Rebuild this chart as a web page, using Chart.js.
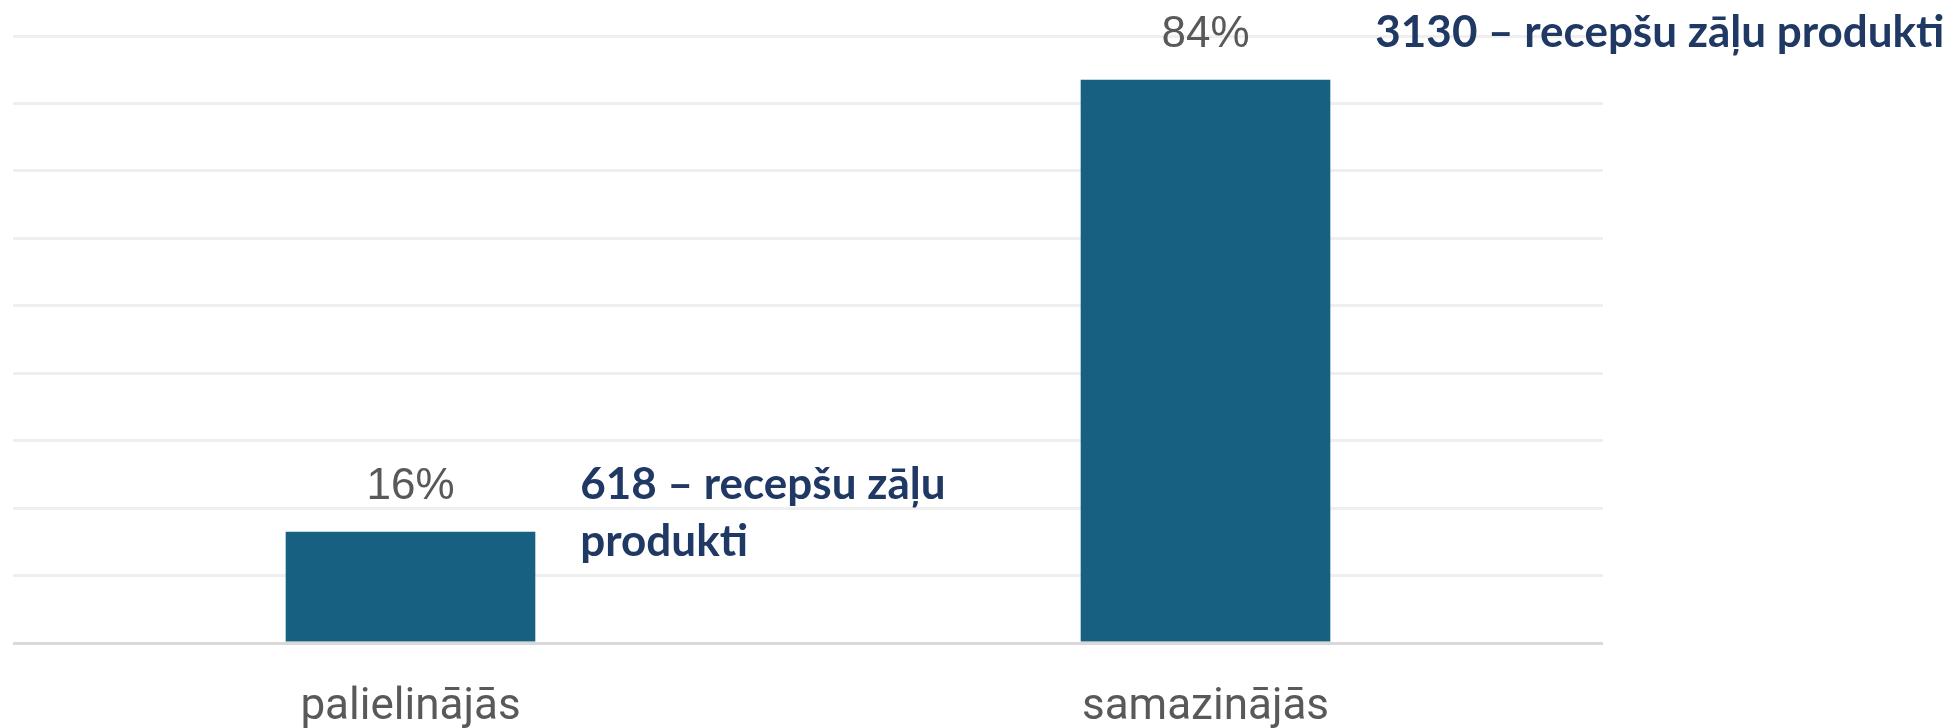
<!DOCTYPE html>
<html>
<head>
<meta charset="utf-8">
<script src="https://cdn.jsdelivr.net/npm/chart.js@4"></script>
<style>
  body { margin: 0; background: #fff; }
  #wrap { width: 1956px; height: 728px; }
</style>
</head>
<body>
<div id="wrap"><canvas id="chart"></canvas></div>
<script>
// data
const categories = ['palielinājās', 'samazinājās'];
const shares = [16.49, 83.51];          // percent of products
const counts = [618, 3130];             // prescription products
const noteLines = [
    ['618 – recepšu zāļu', 'produkti'],
    ['3130 – recepšu zāļu produkti']
];
const yTicks = [0, 10, 20, 30, 40, 50, 60, 70, 80, 90];

const barColor = '#176082';
const labelGray = '#595959';
const noteColor = '#1F3864';

// percent labels above bars + the bold notes beside them
const barNotes = {
    id: 'barNotes',
    afterDatasetsDraw(chart) {
        const ctx = chart.ctx;
        const meta = chart.getDatasetMeta(0);
        ctx.save();
        meta.data.forEach((bar, i) => {
            const top = bar.y;
            // percentage
            ctx.font = '44px "Liberation Sans", Arial, sans-serif';
            ctx.fillStyle = labelGray;
            ctx.textAlign = 'center';
            ctx.textBaseline = 'alphabetic';
            ctx.fillText(Math.round(shares[i]) + '%', bar.x, top - 33);

            // note
            ctx.font = 'bold 44px Lato, "Open Sans", sans-serif';
            ctx.fillStyle = noteColor;
            ctx.textAlign = 'left';
            const left = bar.x + bar.width / 2 + 45;
            noteLines[i].forEach((line, j) => {
                ctx.fillText(line, left, top - 33 + j * 57);
            });
        });
        ctx.restore();
    }
};

const ctx = document.getElementById('chart').getContext('2d');
const myChart = new Chart(ctx, {
    type: 'bar',
    data: {
        labels: categories,
        datasets: [{
            data: shares,
            backgroundColor: barColor,
            categoryPercentage: 1,
            barPercentage: 0.314,
        }],
    },
    options: {
        responsive: true,
        maintainAspectRatio: false,
        animation: false,
        events: [],
        layout: {
            padding: { left: 13, right: 353, top: 36, bottom: 0 }
        },
        plugins: {
            legend: { display: false },
            tooltip: { enabled: false },
        },
        scales: {
            x: {
                grid: { display: false, drawTicks: false },
                border: { display: false },
                ticks: {
                    color: labelGray,
                    padding: 39,
                    font: { family: 'Roboto', size: 44 },
                },
                afterFit(scale) { scale.height = 85; },
            },
            y: {
                min: 0,
                max: 90,
                display: true,
                border: { display: false },
                afterBuildTicks(scale) { scale.ticks = yTicks.map(v => ({ value: v })); },
                ticks: { display: false },
                afterFit(scale) { scale.width = 0; },
                grid: {
                    drawTicks: false,
                    lineWidth: 3,
                    color: (c) => c.tick && c.tick.value === 0 ? '#D9D9D9' : '#EFEFEF',
                },
            },
        },
    },
    plugins: [barNotes],
});
</script>
</body>
</html>
